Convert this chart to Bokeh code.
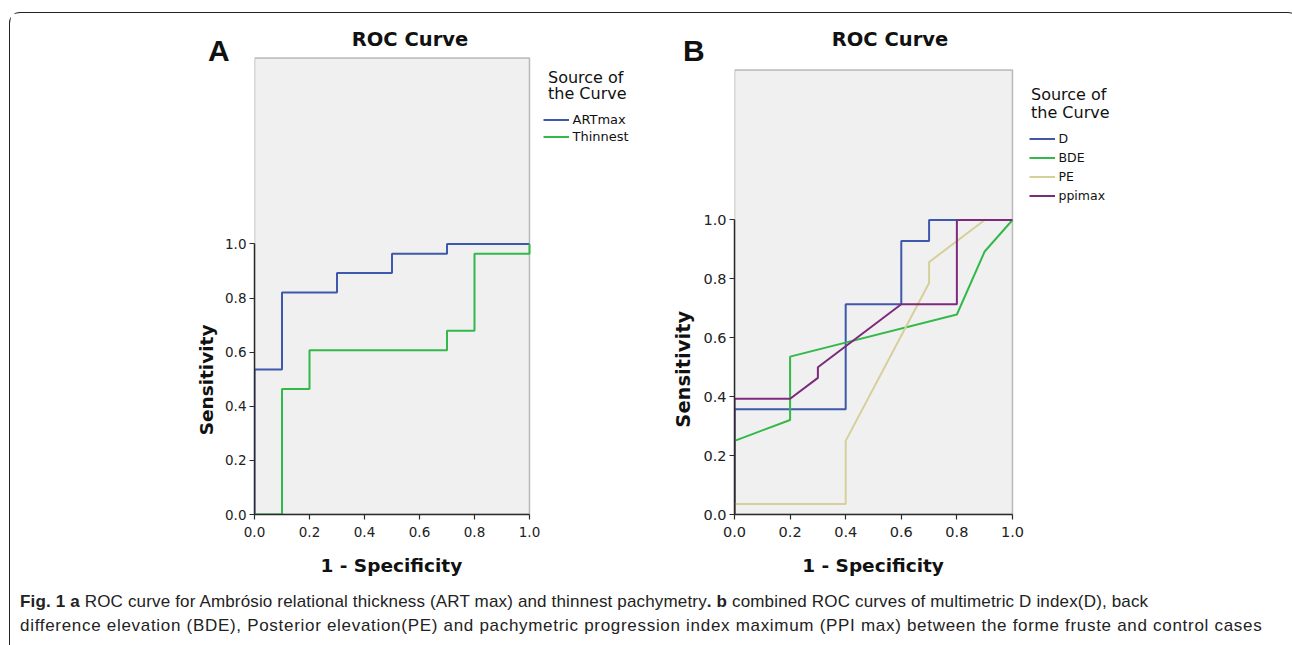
from bokeh.plotting import figure
from bokeh.models import (Range1d, Legend, LegendItem, Div, FixedTicker,
                          PrintfTickFormatter, Label, BoxAnnotation)
from bokeh.layouts import row, column
from bokeh.embed import file_html
from bokeh.resources import INLINE

# ---------------- data ----------------
ticks = [0.0, 0.2, 0.4, 0.6, 0.8, 1.0]

# Panel A
art_fpr = [0.0, 0.0, 0.1, 0.1, 0.3, 0.3, 0.5, 0.5, 0.7, 0.7, 1.0]
art_tpr = [0.0, 0.536, 0.536, 0.821, 0.821, 0.893, 0.893, 0.964, 0.964, 1.0, 1.0]
thin_fpr = [0.0, 0.1, 0.1, 0.2, 0.2, 0.7, 0.7, 0.8, 0.8, 1.0, 1.0]
thin_tpr = [0.0, 0.0, 0.464, 0.464, 0.607, 0.607, 0.679, 0.679, 0.964, 0.964, 1.0]
names_a = ["ARTmax", "Thinnest"]

# Panel B
d_fpr = [0.0, 0.0, 0.4, 0.4, 0.6, 0.6, 0.7, 0.7, 1.0]
d_tpr = [0.0, 0.357, 0.357, 0.714, 0.714, 0.929, 0.929, 1.0, 1.0]
bde_fpr = [0.0, 0.0, 0.2, 0.2, 0.8, 0.9, 1.0]
bde_tpr = [0.0, 0.25, 0.321, 0.536, 0.679, 0.893, 1.0]
pe_fpr = [0.0, 0.0, 0.4, 0.4, 0.7, 0.7, 0.9, 1.0]
pe_tpr = [0.0, 0.036, 0.036, 0.25, 0.786, 0.857, 1.0, 1.0]
ppi_fpr = [0.0, 0.0, 0.2, 0.3, 0.3, 0.6, 0.8, 0.8, 1.0]
ppi_tpr = [0.0, 0.393, 0.393, 0.464, 0.5, 0.714, 0.714, 1.0, 1.0]
names_b = ["D", "BDE", "PE", "ppimax"]

BLUE = "#3E58AC"
GREEN = "#33B84A"
TAN = "#D6CF9A"
PURPLE = "#7C2A7C"
AXC = "#2a2a2a"
NB = "\u00a0"


def make_panel(width, mbl, x_end, y_box_top, y_end, tick_fs, xlabel_fs, ylabel_fs, pad_x, pad_y):
    # frame extends right and up beyond the grey plot area so that the
    # title and legend live inside the frame; the axes are bounded to 0..1
    p = figure(width=width, height=572, x_range=Range1d(0, x_end), y_range=Range1d(0, y_end),
               output_backend="svg", toolbar_location=None, title=None,
               min_border_left=mbl, min_border_right=0,
               min_border_top=0, min_border_bottom=71)
    p.background_fill_color = "white"
    p.border_fill_color = "white"
    p.outline_line_color = None
    p.xgrid.visible = False
    p.ygrid.visible = False
    p.add_layout(BoxAnnotation(left=0, right=1, bottom=0, top=y_box_top,
                               fill_color="#F0F0F0", fill_alpha=1.0,
                               line_color=AXC, line_width=1.5, level="underlay"))
    for ax in (p.xaxis[0], p.yaxis[0]):
        ax.ticker = FixedTicker(ticks=ticks)
        ax.formatter = PrintfTickFormatter(format="%.1f")
        ax.bounds = (0, 1)
        ax.major_tick_out = 5
        ax.major_tick_in = 0
        ax.minor_tick_line_color = None
        ax.axis_line_color = AXC
        ax.axis_line_width = 1.5
        ax.major_tick_line_color = AXC
        ax.major_tick_line_width = 1.2
        ax.major_label_text_font = "DejaVu Sans"
        ax.major_label_text_font_size = tick_fs
        ax.major_label_text_color = "#222222"
        ax.axis_label_text_font = "DejaVu Sans"
        ax.axis_label_text_font_style = "bold"
        ax.axis_label_text_color = "#111111"
    p.xaxis.axis_label_text_font_size = xlabel_fs
    p.yaxis.axis_label_text_font_size = ylabel_fs
    # axis labels are centred on the whole frame; pad them so that the
    # visible words sit centred on the 0..1 part of the axis
    p.xaxis.axis_label = "1 - Specificity" + NB * pad_x
    p.yaxis.axis_label = "Sensitivity" + NB * pad_y
    p.xaxis.major_label_standoff = 7
    p.yaxis.major_label_standoff = 3
    p.xaxis.axis_label_standoff = 15
    p.yaxis.axis_label_standoff = 5
    return p


def add_text(p, txt, x, y, size, style="normal", align="left"):
    p.add_layout(Label(x=x, y=y, x_units="screen", y_units="screen", text=txt,
                       text_font="DejaVu Sans", text_font_size=size, text_font_style=style,
                       text_align=align, text_baseline="alphabetic", text_color="#111111"))


def make_legend(items, loc, row_h, fs):
    return Legend(items=items, location=loc, orientation="vertical",
                  glyph_width=26, glyph_height=row_h, label_height=row_h, label_standoff=4,
                  spacing=0, padding=0, margin=0, border_line_alpha=0, background_fill_alpha=0,
                  label_text_font="DejaVu Sans", label_text_font_size=fs,
                  label_text_color="#111111")


# ---------------- panel A ----------------
pA = make_panel(640, 244, 1.44, 1.6876, 1.852, "13.5px", "18.5px", "18.5px", 19, 36)
rA1 = pA.line(art_fpr, art_tpr, line_color=BLUE, line_width=2)
rA2 = pA.line(thin_fpr, thin_tpr, line_color=GREEN, line_width=2)
pA.add_layout(make_legend([LegendItem(label=names_a[0], renderers=[rA1]),
                           LegendItem(label=names_a[1], renderers=[rA2])],
                          (288.5, 369.5), 17, "13px"), "center")
add_text(pA, "Source of", 293.5, 437.5, "16px")
add_text(pA, "the Curve", 293.5, 420.8, "16px")
add_text(pA, "ROC Curve", 155.5, 475.5, "19.5px", style="bold", align="center")

# ---------------- panel B ----------------
pB = make_panel(638, 84, 1.993, 1.509, 1.701, "14.5px", "18.5px", "19.5px", 43, 31)
rB1 = pB.line(d_fpr, d_tpr, line_color=BLUE, line_width=2)
rB2 = pB.line(bde_fpr, bde_tpr, line_color=GREEN, line_width=2)
rB3 = pB.line(pe_fpr, pe_tpr, line_color=TAN, line_width=2)
rB4 = pB.line(ppi_fpr, ppi_tpr, line_color=PURPLE, line_width=2)
pB.add_layout(make_legend([LegendItem(label=names_b[i], renderers=[r])
                           for i, r in enumerate([rB1, rB2, rB3, rB4])],
                          (294.5, 309), 19, "12.5px"), "center")
add_text(pB, "Source of", 296.5, 420.5, "16px")
add_text(pB, "the Curve", 296.5, 402.5, "16px")
add_text(pB, "ROC Curve", 155.5, 475.5, "19.5px", style="bold", align="center")

# ---------------- panel letters ----------------
letter_css = ("margin:0; font-family:'Liberation Sans'; font-weight:bold; font-size:30px; "
              "line-height:30px; color:#111;")
letA = Div(text=f'<div style="{letter_css}">A</div>', width=32, height=32,
           styles={"position": "absolute", "left": "193px", "top": "18px"})
letB = Div(text=f'<div style="{letter_css}">B</div>', width=32, height=32,
           styles={"position": "absolute", "left": "668px", "top": "18px"})

# ---------------- caption ----------------
cap_html = (
    '<div style="font-family:\'Liberation Sans\'; font-size:17px; line-height:24px; '
    'color:#222; white-space:nowrap; padding:0 0 0 5px;">'
    '<span style="letter-spacing:0.16px;"><b>Fig. 1 a</b> ROC curve for Ambrósio relational thickness '
    '(ART max) and thinnest pachymetry<b>. b</b> combined ROC curves of multimetric D index(D), back</span><br>'
    '<span style="letter-spacing:0.70px;">difference elevation (BDE), Posterior elevation(PE) and '
    'pachymetric progression index maximum (PPI max) between the forme fruste and control cases</span></div>'
)
cap = Div(text=cap_html, width=1278, height=58)

top = row(pA, pB, spacing=0)
outer = column(top, cap, letA, letB, spacing=0,
               styles={"position": "relative", "top": "12px", "left": "9px",
                       "border": "1.5px solid #222", "border-bottom": "none",
                       "border-radius": "11px 11px 0 0"})

open("out.html", "w").write(file_html(outer, INLINE))
